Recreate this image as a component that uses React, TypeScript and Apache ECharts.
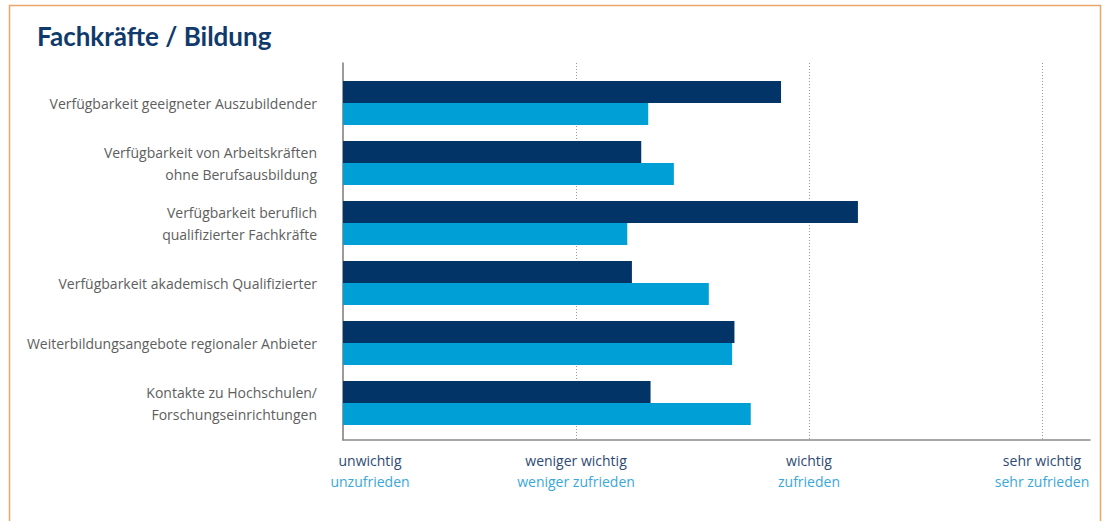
import React, { useEffect, useRef } from "react";
import * as echarts from "echarts";

const title = "Fachkräfte / Bildung";
const categories = [
  "Verfügbarkeit geeigneter Auszubildender",
  "Verfügbarkeit von Arbeitskräften\nohne Berufsausbildung",
  "Verfügbarkeit beruflich\nqualifizierter Fachkräfte",
  "Verfügbarkeit akademisch Qualifizierter",
  "Weiterbildungsangebote regionaler Anbieter",
  "Kontakte zu Hochschulen/\nForschungseinrichtungen",
];
const importance = [2.88, 2.28, 3.21, 2.24, 2.68, 2.32];
const satisfaction = [2.31, 2.42, 2.22, 2.57, 2.67, 2.75];
const tickLabelsImportance = ["unwichtig", "weniger wichtig", "wichtig", "sehr wichtig"];
const tickLabelsSatisfaction = ["unzufrieden", "weniger zufrieden", "zufrieden", "sehr zufrieden"];

const FONT = "'Open Sans', 'Noto Sans', sans-serif";

export default function App() {
  const ref = useRef<HTMLDivElement>(null);
  useEffect(() => {
    if (!ref.current) return;
    const chart = echarts.init(ref.current, undefined, { renderer: "svg" });
    const xMin = 1;
    const xMax = 4.206;
    const fmt = (v: number) => {
      const r = Math.round(v);
      if (Math.abs(v - r) > 1e-6 || r < 1 || r > 4) return "";
      const i = r - 1;
      const s = i === 0 ? "1" : "";
      return `{a${s}|${tickLabelsImportance[i]}}\n{b${s}|${tickLabelsSatisfaction[i]}}`;
    };
    const richA = { color: "#2e4a74", fontSize: 14, lineHeight: 21, fontFamily: FONT };
    const richB = { color: "#3aa7db", fontSize: 14, lineHeight: 21, fontFamily: FONT };
    chart.setOption({
      animation: false,
      textStyle: { fontFamily: FONT },
      graphic: [
        {
          type: "rect",
          shape: { x: 9.5, y: 5.5, width: 1091, height: 540 },
          style: { fill: "none", stroke: "#eaa56a", lineWidth: 1.5 },
          silent: true,
        },
        {
          type: "text",
          left: 37,
          top: 23,
          style: {
            text: title,
            fontFamily: "Lato, 'Open Sans', sans-serif",
            fontWeight: "bold",
            fontSize: 26,
            fill: "#0f3a6b",
          },
        },
      ],
      grid: [
        { left: 343, top: 63, width: 747, height: 377 },
        { left: 343, top: 73, width: 747, height: 360 },
      ],
      xAxis: [
        {
          gridIndex: 0,
          type: "value",
          min: xMin,
          max: xMax,
          interval: 1,
          axisLine: { show: true, lineStyle: { color: "#8a8a8a", width: 1.5 } },
          axisTick: { show: false },
          splitLine: {
            show: true,
            showMinLine: false,
            showMaxLine: false,
            lineStyle: { color: "#9a9a9a", type: [1, 2], width: 1 },
          },
          axisLabel: {
            formatter: fmt,
            margin: 10,
            rich: {
              a: richA,
              b: richB,
              a1: { ...richA, padding: [0, 0, 0, 54] },
              b1: { ...richB, padding: [0, 0, 0, 54] },
            },
          },
        },
        {
          gridIndex: 1,
          type: "value",
          min: xMin,
          max: xMax,
          interval: 1,
          show: false,
          splitLine: { show: false },
        },
      ],
      yAxis: [
        {
          gridIndex: 0,
          type: "value",
          min: 0,
          max: 1,
          axisLine: { show: true, lineStyle: { color: "#7a7a7a", width: 1.5 } },
          axisTick: { show: false },
          axisLabel: { show: false },
          splitLine: { show: false },
        },
        {
          gridIndex: 1,
          type: "category",
          inverse: true,
          data: categories,
          axisLine: { show: false },
          axisTick: { show: false },
          axisLabel: {
            margin: 26,
            color: "#5e5e5e",
            fontSize: 14,
            lineHeight: 22,
            fontFamily: FONT,
            align: "right",
          },
        },
      ],
      series: [
        {
          name: "wichtig",
          type: "bar",
          xAxisIndex: 1,
          yAxisIndex: 1,
          data: importance,
          barWidth: 22,
          barGap: "0%",
          itemStyle: { color: "#033468" },
        },
        {
          name: "zufrieden",
          type: "bar",
          xAxisIndex: 1,
          yAxisIndex: 1,
          data: satisfaction,
          barWidth: 22,
          barGap: "0%",
          itemStyle: { color: "#009fd6" },
        },
      ],
    });
    return () => chart.dispose();
  }, []);
  return (
    <div
      ref={ref}
      style={{ position: "fixed", left: 0, top: 0, width: 1110, height: 521, background: "#fff" }}
    />
  );
}
